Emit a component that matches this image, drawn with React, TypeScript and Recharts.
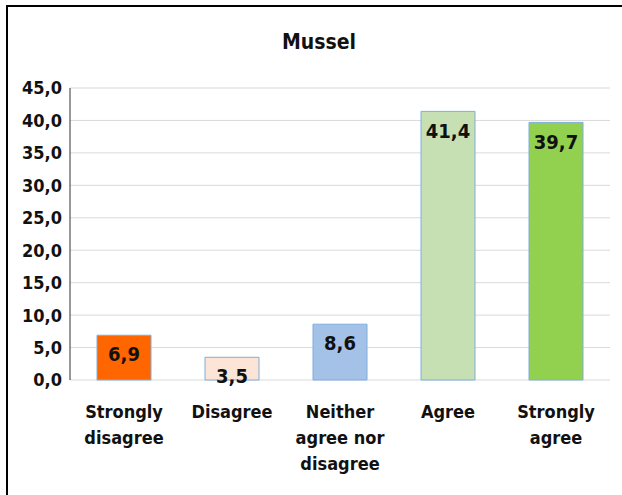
import { BarChart, Bar, XAxis, YAxis, CartesianGrid, Cell, LabelList } from 'recharts';

const categories = ['Strongly disagree', 'Disagree', 'Neither agree nor disagree', 'Agree', 'Strongly agree'];
const tickLines = [['Strongly', 'disagree'], ['Disagree'], ['Neither', 'agree nor', 'disagree'], ['Agree'], ['Strongly', 'agree']];
const values = [6.9, 3.5, 8.6, 41.4, 39.7];
const yTicks = [0, 5, 10, 15, 20, 25, 30, 35, 40, 45];
const barColors = ['#FF6600', '#FCE4D6', '#A4C2E8', '#C6E0B4', '#92D050'];

const data = categories.map((name, i) => ({ name, value: values[i] }));

const font = '"Liberation Sans Narrow", "DejaVu Sans Condensed", sans-serif';
const fmt = (v: number) => v.toFixed(1).replace('.', ',');

function CategoryTick(props: any) {
  const { x, y, index } = props;
  const lines = tickLines[index] || [];
  return (
    <text x={x} y={y + 30} textAnchor="middle" fontFamily={font} fontWeight="bold" fontSize={18} fill="#111">
      {lines.map((l, i) => (
        <tspan key={i} x={x} dy={i === 0 ? 0 : 26}>{l}</tspan>
      ))}
    </text>
  );
}

export default function App() {
  return (
    <div style={{ position: 'fixed', left: 0, top: 0, width: 622, height: 495, background: '#fff', overflow: 'hidden' }}>
      <div style={{ position: 'absolute', left: 6, top: 5, width: 620, height: 500, border: '2px solid #000', boxSizing: 'border-box' }} />
      <div style={{ position: 'absolute', left: 0, top: 30, width: 638, textAlign: 'center', fontFamily: font, fontWeight: 'bold', fontSize: 21, color: '#111' }}>
        Mussel
      </div>
      <div style={{ position: 'absolute', left: 0, top: 0 }}>
        <BarChart width={622} height={495} data={data} margin={{ top: 88, right: 12, left: 10, bottom: 15 }} barCategoryGap="25%">
          <CartesianGrid vertical={false} stroke="#d9d9d9" />
          <XAxis dataKey="name" height={100} tick={<CategoryTick />} tickLine={false} axisLine={false} interval={0} />
          <XAxis xAxisId="top" orientation="top" dataKey="name" height={0} tick={false} tickLine={false} axisLine={{ stroke: '#555' }} />
          <YAxis
            domain={[0, 45]}
            ticks={yTicks}
            tickFormatter={fmt}
            width={60}
            tickLine={false}
            axisLine={{ stroke: '#333' }}
            tick={{ fontFamily: font, fontWeight: 'bold', fontSize: 18, fill: '#111' }}
          />
          <YAxis yAxisId="right" orientation="right" domain={[0, 45]} width={0} tick={false} tickLine={false} axisLine={{ stroke: '#777' }} />
          <Bar dataKey="value" stroke="#7FAEDB" strokeWidth={1} isAnimationActive={false}>
            {data.map((d, i) => (
              <Cell key={d.name} fill={barColors[i]} />
            ))}
            <LabelList
              dataKey="value"
              position="insideTop"
              offset={12}
              formatter={(v: any) => fmt(Number(v))}
              style={{ fontFamily: font, fontWeight: 'bold', fontSize: 20, fill: '#111' }}
            />
          </Bar>
        </BarChart>
      </div>
    </div>
  );
}
